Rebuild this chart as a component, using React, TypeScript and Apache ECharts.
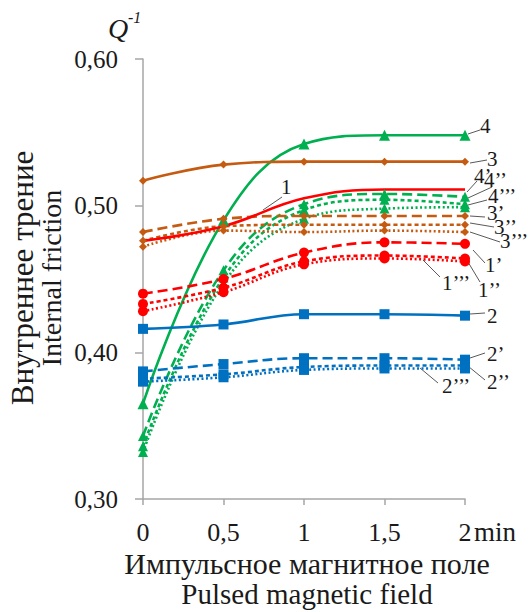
import React, { useEffect, useRef } from "react";
import * as echarts from "echarts";

const xValues = [0, 0.5, 1, 1.5, 2];
const yTicks = [0.3, 0.4, 0.5, 0.6];

const s4 = [0.365, 0.49, 0.542, 0.548, 0.548];
const s4a = [0.343, 0.456, 0.501, 0.508, 0.506];
const s4b = [0.336, 0.451, 0.497, 0.504, 0.501];
const s4c = [0.332, 0.447, 0.491, 0.498, 0.499];
const s3 = [0.517, 0.528, 0.53, 0.53, 0.53];
const s3a = [0.482, 0.491, 0.493, 0.493, 0.493];
const s3b = [0.476, 0.486, 0.487, 0.487, 0.487];
const s3c = [0.472, 0.483, 0.482, 0.483, 0.482];
const s1 = [0.476, 0.486, 0.505, 0.511, 0.511];
const s1a = [0.44, 0.45, 0.468, 0.475, 0.474];
const s1b = [0.433, 0.444, 0.462, 0.466, 0.464];
const s1c = [0.428, 0.441, 0.46, 0.464, 0.462];
const s2 = [0.416, 0.419, 0.426, 0.426, 0.425];
const s2a = [0.387, 0.392, 0.396, 0.396, 0.395];
const s2b = [0.382, 0.385, 0.39, 0.391, 0.391];
const s2c = [0.38, 0.383, 0.388, 0.389, 0.389];

const GREEN = "#00b050";
const ORANGE = "#c55a11";
const RED = "#ff0000";
const BLUE = "#0070c0";

const SOLID: any = "solid";
const DASH = [10, 5];
const SQDOT = [4, 3];
const DOT = [2, 2.5];

type Def = { name: string; vals: number[]; color: string; dash: any; symbol: string; size: number };
const defs: Def[] = [
  { name: "4", vals: s4, color: GREEN, dash: SOLID, symbol: "triangle", size: 11 },
  { name: "4’", vals: s4a, color: GREEN, dash: DASH, symbol: "triangle", size: 10 },
  { name: "4’’", vals: s4b, color: GREEN, dash: SQDOT, symbol: "triangle", size: 10 },
  { name: "4’’’", vals: s4c, color: GREEN, dash: DOT, symbol: "triangle", size: 10 },
  { name: "3", vals: s3, color: ORANGE, dash: SOLID, symbol: "diamond", size: 8 },
  { name: "3’", vals: s3a, color: ORANGE, dash: DASH, symbol: "diamond", size: 8 },
  { name: "3’’", vals: s3b, color: ORANGE, dash: SQDOT, symbol: "diamond", size: 8 },
  { name: "3’’’", vals: s3c, color: ORANGE, dash: DOT, symbol: "diamond", size: 8 },
  { name: "1", vals: s1, color: RED, dash: SOLID, symbol: "none", size: 0 },
  { name: "1’", vals: s1a, color: RED, dash: DASH, symbol: "circle", size: 10 },
  { name: "1’’", vals: s1b, color: RED, dash: SQDOT, symbol: "circle", size: 10 },
  { name: "1’’’", vals: s1c, color: RED, dash: DOT, symbol: "circle", size: 10 },
  { name: "2", vals: s2, color: BLUE, dash: SOLID, symbol: "rect", size: 10 },
  { name: "2’", vals: s2a, color: BLUE, dash: DASH, symbol: "rect", size: 10 },
  { name: "2’’", vals: s2b, color: BLUE, dash: SQDOT, symbol: "rect", size: 10 },
  { name: "2’’’", vals: s2c, color: BLUE, dash: DOT, symbol: "rect", size: 10 },
];

// annotation labels: text, text x, text y, leader x1,y1,x2,y2
const annotations: [string, number, number, number, number, number, number][] = [
  ["4", 480, 126, 468, 134, 480, 130],
  ["3", 487, 159, 470, 163, 487, 160],
  ["4’", 474, 176, 467, 192, 477, 181],
  ["4’’", 484, 180, 468, 198, 492, 187],
  ["4’’’", 488, 196, 468, 205, 487, 200],
  ["3’", 487, 213, 470, 216, 485, 217],
  ["3’’", 494, 227, 470, 223, 494, 227],
  ["3’’’", 500, 241, 470, 232, 500, 242],
  ["1’", 485, 265, 473, 250, 485, 263],
  ["1’’", 478, 290, 468, 262, 480, 282],
  ["1’’’", 442, 283, 423, 260, 440, 277],
  ["2", 487, 316, 470, 314, 485, 313],
  ["2’", 487, 354, 470, 358, 485, 353],
  ["2’’", 487, 382, 463, 362, 485, 380],
  ["2’’’", 442, 386, 420, 368, 438, 383],
  ["1", 281, 187, 282, 197, 263, 210],
];

const FONT = "serif";

export default function App() {
  const ref = useRef<HTMLDivElement>(null);
  useEffect(() => {
    if (!ref.current) return;
    const chart = echarts.init(ref.current, undefined, { renderer: "svg" });
    const graphics: any[] = [];
    annotations.forEach(([t, tx, ty, x1, y1, x2, y2]) => {
      graphics.push({
        type: "line",
        shape: { x1, y1, x2, y2 },
        style: { stroke: "#595959", lineWidth: 1 },
        silent: true,
      });
      graphics.push({
        type: "text",
        x: tx,
        y: ty,
        style: { text: t, fontFamily: FONT, fontSize: 21, fill: "#1a1a1a", textAlign: "left", textVerticalAlign: "middle" },
        silent: true,
      });
    });
    graphics.push({
      type: "text",
      x: 474,
      y: 532,
      style: { text: "min", fontFamily: FONT, fontSize: 27, fill: "#1a1a1a", textAlign: "left", textVerticalAlign: "middle" },
    });
    graphics.push({
      type: "text",
      x: 108,
      y: 14,
      style: { text: "Q", fontFamily: FONT, fontStyle: "italic", fontSize: 28, fill: "#1a1a1a" },
    });
    graphics.push({
      type: "text",
      x: 128,
      y: 9,
      style: { text: "-1", fontFamily: FONT, fontStyle: "italic", fontSize: 16, fill: "#1a1a1a" },
    });
    graphics.push({
      type: "text",
      x: 307,
      y: 563,
      style: { text: "Импульсное магнитное поле", fontFamily: FONT, fontSize: 30, fill: "#1a1a1a", textAlign: "center", textVerticalAlign: "middle" },
    });
    graphics.push({
      type: "text",
      x: 307,
      y: 594,
      style: { text: "Pulsed magnetic field", fontFamily: FONT, fontSize: 29, fill: "#1a1a1a", textAlign: "center", textVerticalAlign: "middle" },
    });
    graphics.push({
      type: "text",
      x: 22,
      y: 278,
      rotation: Math.PI / 2,
      style: { text: "Внутреннее трение", fontFamily: FONT, fontSize: 31, fill: "#1a1a1a", textAlign: "center", textVerticalAlign: "middle" },
    });
    graphics.push({
      type: "text",
      x: 51,
      y: 278,
      rotation: Math.PI / 2,
      style: { text: "Internal friction", fontFamily: FONT, fontSize: 28, fill: "#1a1a1a", textAlign: "center", textVerticalAlign: "middle" },
    });

    chart.setOption({
      animation: false,
      backgroundColor: "#ffffff",
      grid: { left: 143, right: 65, top: 59, bottom: 113, containLabel: false },
      xAxis: {
        type: "value",
        min: 0,
        max: 2,
        interval: 0.5,
        axisLine: { show: true, lineStyle: { color: "#a6a6a6", width: 1.5 } },
        axisTick: { show: true, length: 6, lineStyle: { color: "#a6a6a6", width: 1.5 } },
        splitLine: { show: false },
        axisLabel: {
          margin: 20,
          fontFamily: FONT,
          fontSize: 26,
          color: "#1a1a1a",
          formatter: (v: number) => String(v).replace(".", ","),
        },
      },
      yAxis: {
        type: "value",
        min: yTicks[0],
        max: yTicks[yTicks.length - 1],
        interval: 0.1,
        axisLine: { show: true, lineStyle: { color: "#a6a6a6", width: 1.5 } },
        axisTick: { show: true, length: 8, lineStyle: { color: "#a6a6a6", width: 1.5 } },
        splitLine: { show: false },
        axisLabel: {
          margin: 25,
          fontFamily: FONT,
          fontSize: 25,
          color: "#1a1a1a",
          formatter: (v: number) => v.toFixed(2).replace(".", ","),
        },
      },
      series: defs.map((d) => ({
        name: d.name,
        type: "line",
        smooth: 0.4,
        data: d.vals.map((v, i) => [xValues[i], v]),
        symbol: d.symbol,
        symbolSize: d.size,
        showSymbol: d.symbol !== "none",
        lineStyle: { color: d.color, width: 2.6, type: d.dash },
        itemStyle: { color: d.color },
        emphasis: { disabled: true },
        z: 2,
      })),
      graphic: graphics,
    });
    return () => chart.dispose();
  }, []);
  return <div ref={ref} style={{ position: "fixed", left: 0, top: 0, width: 530, height: 612 }} />;
}
